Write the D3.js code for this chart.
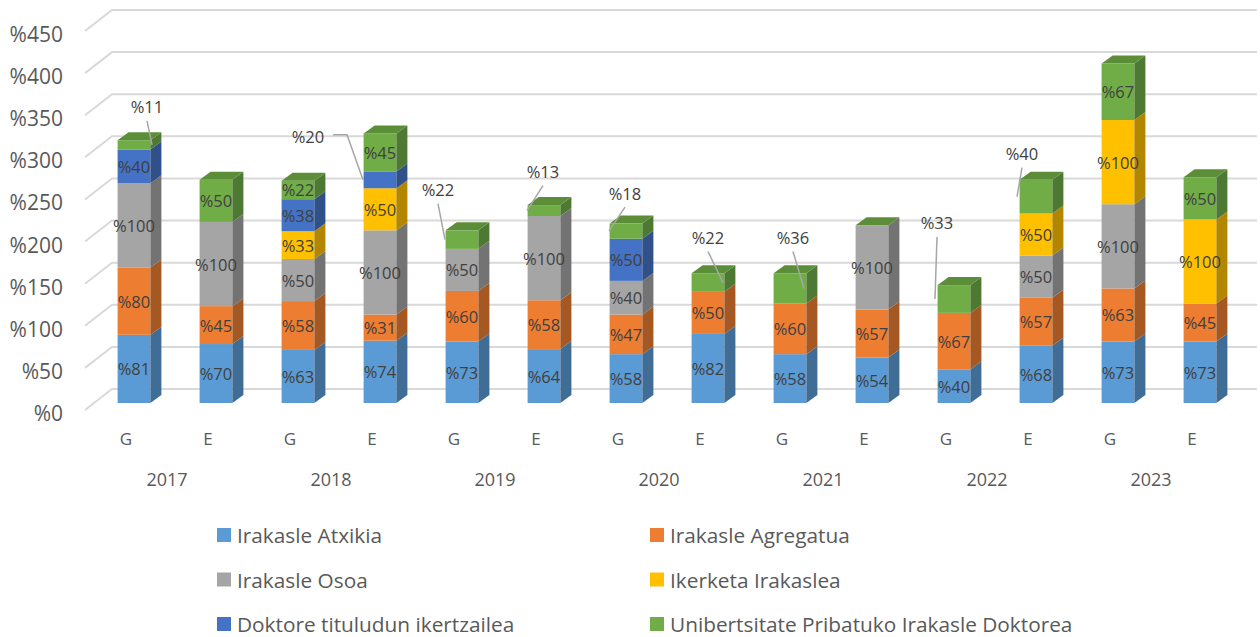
<!DOCTYPE html>
<html>
<head>
<meta charset="utf-8">
<script src="https://cdn.jsdelivr.net/npm/d3@7/dist/d3.min.js"></script>
<style>
  body { margin: 0; background: #fff; }
  text { font-family: "Open Sans", sans-serif; }
</style>
</head>
<body>
<div id="chart"></div>
<script>
var years = ["2017", "2018", "2019", "2020", "2021", "2022", "2023"];
var groups = ["G", "E"];
var seriesNames = ["Irakasle Atxikia", "Irakasle Agregatua", "Irakasle Osoa",
  "Ikerketa Irakaslea", "Doktore tituludun ikertzailea", "Unibertsitate Pribatuko Irakasle Doktorea"];
var seriesColors = ["#5B9BD5", "#ED7D31", "#A5A5A5", "#FFC000", "#4472C4", "#70AD47"];

// one value per bar: 2017 G, 2017 E, 2018 G, ... 2023 E
var atxikia   = [81, 70, 63, 74, 73, 64, 58, 82, 58, 54, 40, 68, 73, 73];
var agregatua = [80, 45, 58, 31, 60, 58, 47, 50, 60, 57, 67, 57, 63, 45];
var osoa      = [100, 100, 50, 100, 50, 100, 40, 0, 0, 100, 0, 50, 100, 0];
var ikerketa  = [0, 0, 33, 50, 0, 0, 0, 0, 0, 0, 0, 50, 100, 100];
var doktore   = [40, 0, 38, 20, 0, 0, 50, 0, 0, 0, 0, 0, 0, 0];
var pribatua  = [11, 50, 22, 45, 22, 13, 18, 22, 36, 0, 33, 40, 67, 50];
var seriesValues = [atxikia, agregatua, osoa, ikerketa, doktore, pribatua];

// labels placed outside the bar (bar index, series index), offsets are layout only
var callouts = [
  { bar: 0, s: 5, lx: 13, ly: -38, ex: 18 },
  { bar: 3, s: 4, lx: -72, ly: -43, ex: -17, elbow: true },
  { bar: 4, s: 5, lx: -24, ly: -50, ex: -17 },
  { bar: 5, s: 5, lx: -1, ly: -39, ex: -17 },
  { bar: 6, s: 5, lx: -1, ly: -38, ex: -17 },
  { bar: 7, s: 5, lx: 0, ly: -45, ex: 15 },
  { bar: 8, s: 5, lx: 3, ly: -51, ex: 14 },
  { bar: 10, s: 5, lx: -17, ly: -76, ex: -19 },
  { bar: 11, s: 5, lx: -14, ly: -43, ex: -19 }
];

var W = 1260, H = 637;
var depthX = 11, depthY = -8;

var bars = [];
years.forEach(function(yr) {
  groups.forEach(function(g) { bars.push({ year: yr, group: g }); });
});

var svg = d3.select("#chart").append("svg")
    .attr("width", W)
    .attr("height", H);

var x = d3.scaleBand()
    .domain(d3.range(bars.length))
    .range([93, 1241])
    .paddingInner(0.6)
    .paddingOuter(0.3);

var y = d3.scaleLinear()
    .domain([0, 450])
    .range([403, 24]);

var bw = x.bandwidth();

// walls: side + back gridlines
var grid = svg.append("g").attr("class", "grid");
y.ticks(9).forEach(function(v) {
  grid.append("polyline")
      .attr("points", [[85, y(v) + 7], [112, y(v) - 14], [1257, y(v) - 14]].join(" "))
      .style("fill", "none")
      .style("stroke", "#D9D9D9")
      .style("stroke-width", 2);
  grid.append("text")
      .attr("x", 63)
      .attr("y", y(v) + 10)
      .attr("text-anchor", "end")
      .attr("dominant-baseline", "central")
      .style("font-size", "21px")
      .style("fill", "#595959")
      .text("%" + v);
});

function isCallout(b, s) {
  return callouts.some(function(c) { return c.bar === b && c.s === s; });
}

var barsG = svg.append("g").attr("class", "bars");
var labelsG = svg.append("g").attr("class", "labels");

bars.forEach(function(bar, i) {
  var x0 = x(i), cx = x0 + bw / 2;
  var base = 0;
  var g = barsG.append("g");
  seriesValues.forEach(function(vals, s) {
    var v = vals[i];
    var y0 = y(base), y1 = y(base + v);
    var col = d3.color(seriesColors[s]);
    if (v > 0) {
      g.append("rect")
          .attr("x", x0).attr("y", y1)
          .attr("width", bw).attr("height", y0 - y1)
          .style("fill", col);
      g.append("polygon")
          .attr("points", [[x0 + bw, y0], [x0 + bw + depthX, y0 + depthY],
            [x0 + bw + depthX, y1 + depthY], [x0 + bw, y1]].join(" "))
          .style("fill", col.darker(1));
      if (!isCallout(i, s)) {
        labelsG.append("text")
            .attr("x", cx)
            .attr("y", (y0 + y1) / 2)
            .attr("text-anchor", "middle")
            .attr("dominant-baseline", "central")
            .style("font-size", "16.5px")
            .style("fill", "#404040")
            .text("%" + v);
      }
    }
    base += v;
  });
  // top face belongs to the last series
  var yt = y(base);
  g.append("polygon")
      .attr("points", [[x0, yt], [x0 + depthX, yt + depthY],
        [x0 + bw + depthX, yt + depthY], [x0 + bw, yt]].join(" "))
      .style("fill", d3.color(seriesColors[5]).darker(0.55));

  svg.append("text")
      .attr("x", cx - 8)
      .attr("y", 438)
      .attr("text-anchor", "middle")
      .attr("dominant-baseline", "central")
      .style("font-size", "17px")
      .style("fill", "#595959")
      .text(bar.group);
});

years.forEach(function(yr, k) {
  var cx = (x(2 * k) + x(2 * k + 1) + bw) / 2 - 8;
  svg.append("text")
      .attr("x", cx)
      .attr("y", 479)
      .attr("text-anchor", "middle")
      .attr("dominant-baseline", "central")
      .style("font-size", "18px")
      .style("fill", "#595959")
      .text(yr);
});

// callout labels with leader lines
callouts.forEach(function(c) {
  var below = 0;
  for (var s = 0; s < c.s; s++) below += seriesValues[s][c.bar];
  var v = seriesValues[c.s][c.bar];
  var cx = x(c.bar) + bw / 2;
  var my = y(below + v / 2);
  var lx = cx + c.lx, ly = my + c.ly;
  var pts = c.elbow
    ? [[lx + 25, ly - 2], [lx + 39, ly - 2], [cx + c.ex, my]]
    : [[lx, ly + 14], [cx + c.ex, my]];
  labelsG.append("polyline")
      .attr("points", pts.join(" "))
      .style("fill", "none")
      .style("stroke", "#A6A6A6")
      .style("stroke-width", 1.5);
  labelsG.append("text")
      .attr("x", lx)
      .attr("y", ly)
      .attr("text-anchor", "middle")
      .attr("dominant-baseline", "central")
      .style("font-size", "16.5px")
      .style("fill", "#404040")
      .text("%" + v);
});

// legend
var legend = svg.append("g").attr("class", "legend");
seriesNames.forEach(function(name, i) {
  var lx = i % 2 === 0 ? 217 : 650;
  var ly = 535 + Math.floor(i / 2) * 44.5;
  legend.append("rect")
      .attr("x", lx).attr("y", ly - 7)
      .attr("width", 14).attr("height", 14)
      .style("fill", seriesColors[i]);
  legend.append("text")
      .attr("x", lx + 20)
      .attr("y", ly)
      .attr("dominant-baseline", "central")
      .style("font-size", "20.8px")
      .style("fill", "#595959")
      .text(name);
});
</script>
</body>
</html>
